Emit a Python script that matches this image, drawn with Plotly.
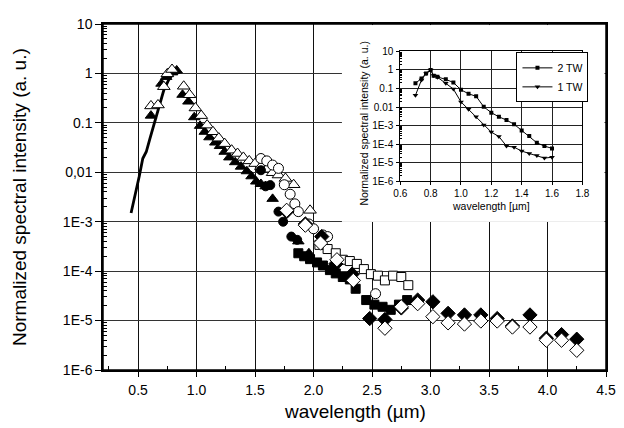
import plotly.graph_objects as go

# ---------------- main chart data ----------------
line_x = [0.44, 0.45, 0.47, 0.49, 0.51, 0.54, 0.57, 0.60, 0.64, 0.68, 0.72, 0.76, 0.79, 0.81, 0.83, 0.85]
line_y = [1.5e-3, 1.9e-3, 3.0e-3, 5.0e-3, 8.3e-3, 1.9e-2, 2.6e-2, 4.7e-2, 0.10, 0.21, 0.46, 0.73, 0.95, 1.07, 1.2, 0.98]

tri_f_x = [0.61, 0.70, 0.74, 0.79, 0.83, 0.88, 0.93, 0.98, 1.03, 1.07, 1.11, 1.16, 1.20, 1.24, 1.28, 1.33,
           1.38, 1.43, 1.47, 1.51, 1.55, 1.59, 1.65, 1.87, 1.96]
tri_f_y = [0.14, 0.62, 0.85, 1.05, 1.15, 0.37, 0.27, 0.13, 0.087, 0.066, 0.051, 0.040, 0.034, 0.026, 0.020, 0.016,
           0.013, 0.0105, 0.0083, 0.0065, 0.0058, 0.0052, 0.0029, 4.0e-4, 2.3e-4]

tri_o_x = [0.61, 0.67, 0.72, 0.75, 0.79, 0.89, 0.94, 0.99, 1.04, 1.09, 1.14, 1.19, 1.24, 1.30, 1.35, 1.40,
           1.45, 1.50, 1.55, 1.60, 1.65, 1.70, 1.76, 1.83, 1.97]
tri_o_y = [0.22, 0.23, 0.54, 0.98, 1.2, 0.55, 0.37, 0.20, 0.14, 0.090, 0.066, 0.049, 0.038, 0.028, 0.024, 0.020,
           0.017, 0.015, 0.013, 0.0115, 0.0098, 0.0088, 0.0075, 0.0056, 0.0017]

circ_f_x = [1.55, 1.59, 1.63, 1.70, 1.74, 1.81, 1.86]
circ_f_y = [0.011, 0.0052, 0.0055, 0.0016, 0.0010, 5.0e-4, 4.3e-4]

circ_o_x = [1.55, 1.60, 1.65, 1.70, 1.75, 1.80, 1.84, 1.87, 1.96, 2.00, 2.08, 2.12, 2.53]
circ_o_y = [0.019, 0.017, 0.014, 0.012, 0.0056, 0.0036, 0.0023, 0.0016, 9.0e-4, 7.2e-4, 5.4e-4, 5.0e-4, 3.5e-5]

dia_f_x = [1.77, 1.93, 2.07, 2.19, 2.33, 2.48, 2.61, 2.75, 2.89, 3.02, 3.15, 3.29, 3.43, 3.57, 3.70, 3.85,
           3.99, 4.12, 4.25]
dia_f_y = [1.6e-3, 9.0e-4, 5.0e-4, 1.4e-4, 8.7e-5, 1.1e-5, 1.05e-5, 1.8e-5, 2.6e-5, 2.4e-5, 1.4e-5, 1.3e-5,
           1.3e-5, 1.1e-5, 7.8e-6, 1.3e-5, 4.4e-6, 5.2e-6, 4.2e-6]

dia_o_x = [1.77, 1.93, 2.06, 2.20, 2.34, 2.61, 2.75, 2.89, 3.02, 3.15, 3.29, 3.43, 3.57, 3.70, 3.85, 3.99,
           4.12, 4.25]
dia_o_y = [1.7e-3, 8.5e-4, 3.7e-4, 1.7e-4, 6.5e-5, 7.0e-6, 1.9e-5, 2.2e-5, 1.2e-5, 9.0e-6, 8.5e-6, 9.8e-6,
           9.8e-6, 7.4e-6, 7.4e-6, 4.0e-6, 4.0e-6, 2.5e-6]

sq_f_x = [1.87, 1.92, 1.97, 2.03, 2.08, 2.14, 2.19, 2.25, 2.31, 2.36, 2.45, 2.52, 2.59, 2.66, 2.73, 2.80]
sq_f_y = [2.3e-4, 2.0e-4, 1.75e-4, 1.5e-4, 1.3e-4, 1.05e-4, 9.0e-5, 7.6e-5, 6.8e-5, 4.4e-5, 2.6e-5, 2.1e-5,
          1.9e-5, 1.65e-5, 2.1e-5, 2.6e-5]

sq_o_x = [2.05, 2.12, 2.19, 2.25, 2.31, 2.37, 2.43, 2.49, 2.55, 2.61, 2.68, 2.75, 2.81]
sq_o_y = [3.4e-4, 2.8e-4, 2.3e-4, 1.7e-4, 1.6e-4, 1.4e-4, 1.1e-4, 8.7e-5, 8.1e-5, 6.5e-5, 8.1e-5, 7.6e-5, 5.2e-5]

main_xtick_vals = [0.5, 1.0, 1.5, 2.0, 2.5, 3.0, 3.5, 4.0, 4.5]
main_xtick_text = ["0.5", "1.0", "1.5", "2.0", "2.5", "3.0", "3.5", "4.0", "4.5"]
main_ytick_vals = [1e-6, 1e-5, 1e-4, 1e-3, 1e-2, 1e-1, 1, 10]
main_ytick_text = ["1E-6", "1E-5", "1E-4", "1E-3", "0,01", "0.1", "1", "10"]

# ---------------- inset data ----------------
tw2_x = [0.70, 0.74, 0.77, 0.80, 0.82, 0.845, 0.90, 0.95, 1.00, 1.05, 1.10, 1.15, 1.20, 1.25, 1.30, 1.35,
         1.40, 1.45, 1.50, 1.55, 1.60]
tw2_y = [0.19, 0.35, 0.65, 1.0, 0.48, 0.43, 0.31, 0.21, 0.085, 0.052, 0.038, 0.0104, 5.0e-3, 3.0e-3, 2.0e-3,
         1.2e-3, 5.5e-4, 2.8e-4, 1.2e-4, 8.0e-5, 6.0e-5]
tw1_x = [0.70, 0.74, 0.77, 0.80, 0.82, 0.845, 0.90, 0.95, 1.00, 1.05, 1.10, 1.15, 1.20, 1.25, 1.30, 1.35,
         1.40, 1.45, 1.50, 1.55, 1.60]
tw1_y = [0.043, 0.29, 0.65, 1.0, 0.5, 0.4, 0.19, 0.093, 0.019, 7.6e-3, 3.0e-3, 1.1e-3, 4.5e-4, 2.6e-4, 8.0e-5,
         7.0e-5, 4.3e-5, 3.2e-5, 2.5e-5, 1.8e-5, 2.0e-5]
series_names = ["2 TW", "1 TW"]

inset_xtick_vals = [0.6, 0.8, 1.0, 1.2, 1.4, 1.6, 1.8]
inset_xtick_text = ["0.6", "0.8", "1.0", "1.2", "1.4", "1.6", "1.8"]
inset_ytick_vals = [1e-6, 1e-5, 1e-4, 1e-3, 1e-2, 1e-1, 1, 10]
inset_ytick_text = ["1E-6", "1E-5", "1E-4", "1E-3", "0.01", "0.1", "1", "10"]

FONT = "Liberation Sans, Arial, Helvetica, sans-serif"
minor_log = [m * 10 ** k for k in range(-6, 1) for m in range(2, 10)]

fig = go.Figure()


def add_markers(x, y, symbol, filled, size):
    fig.add_trace(go.Scatter(
        x=x, y=y, mode="markers", showlegend=False, hoverinfo="skip",
        marker=dict(symbol=symbol, size=size, color="black" if filled else "white",
                    line=dict(color="black", width=1)),
    ))


fig.add_trace(go.Scatter(x=line_x, y=line_y, mode="lines", showlegend=False, hoverinfo="skip",
                         line=dict(color="black", width=2.8)))
add_markers(tri_f_x, tri_f_y, "triangle-up", True, 10)
add_markers(tri_o_x, tri_o_y, "triangle-up", False, 11)
add_markers(circ_f_x, circ_f_y, "circle", True, 9)
add_markers(circ_o_x, circ_o_y, "circle", False, 10)
add_markers(sq_f_x, sq_f_y, "square", True, 9)
add_markers(sq_o_x, sq_o_y, "square", False, 9)
add_markers(dia_f_x, dia_f_y, "diamond", True, 11)
add_markers(dia_o_x, dia_o_y, "diamond", False, 11)

# dummy subplot providing the white panel behind the inset
fig.add_trace(go.Scatter(x=[], y=[], xaxis="x2", yaxis="y2", showlegend=False, hoverinfo="skip"))

# inset traces
fig.add_trace(go.Scatter(x=tw2_x, y=tw2_y, xaxis="x3", yaxis="y3", mode="lines+markers", name=series_names[0],
                         line=dict(color="black", width=1), marker=dict(symbol="square", size=4, color="black")))
fig.add_trace(go.Scatter(x=tw1_x, y=tw1_y, xaxis="x3", yaxis="y3", mode="lines+markers", name=series_names[1],
                         line=dict(color="black", width=1),
                         marker=dict(symbol="triangle-down", size=5, color="black")))

# page body has an 8px margin: figure is shrunk/offset so the plot lands where the reference has it
fig.update_layout(
    width=616, height=420, autosize=False,
    margin=dict(l=95, r=12, t=8, b=58),
    paper_bgcolor="white", plot_bgcolor="white",
    font=dict(family=FONT, color="black"),
    xaxis=dict(
        domain=[0, 1], range=[0.2, 4.5], tickmode="array", tickvals=main_xtick_vals, ticktext=main_xtick_text,
        showgrid=True, gridcolor="#111", gridwidth=1.3, zeroline=False,
        showline=True, linecolor="black", linewidth=1.5, mirror=True,
        ticks="outside", ticklen=5, tickcolor="black", ticklabelstandoff=1,
        tickfont=dict(size=14, family=FONT),
        minor=dict(tickmode="array", tickvals=[0.25, 0.75, 1.25, 1.75, 2.25, 2.75, 3.25, 3.75, 4.25],
                   ticks="inside", ticklen=4, tickcolor="black", showgrid=False),
    ),
    yaxis=dict(
        domain=[0, 1], type="log", range=[-6, 1], tickmode="array", tickvals=main_ytick_vals,
        ticktext=main_ytick_text,
        showgrid=True, gridcolor="#333", gridwidth=1.2, zeroline=False,
        showline=True, linecolor="black", linewidth=1.5, mirror=True,
        ticks="outside", ticklen=6, tickcolor="black",
        tickfont=dict(size=14, family=FONT),
        minor=dict(tickmode="array", tickvals=minor_log, ticks="inside", ticklen=4, tickcolor="black",
                   showgrid=False),
    ),
    xaxis2=dict(domain=[0.475, 0.997], anchor="y2", range=[0, 1], showgrid=False, zeroline=False,
                showline=False, showticklabels=False, ticks=""),
    yaxis2=dict(domain=[0.428, 0.997], anchor="x2", range=[0, 1], showgrid=False, zeroline=False,
                showline=False, showticklabels=False, ticks=""),
    xaxis3=dict(
        domain=[0.591, 0.953], anchor="y3", range=[0.6, 1.8], tickmode="array", tickvals=inset_xtick_vals,
        ticktext=inset_xtick_text, showgrid=True, gridcolor="#222", gridwidth=1, zeroline=False,
        showline=True, linecolor="black", linewidth=1, mirror=True,
        ticks="outside", ticklen=3, tickcolor="black", ticklabelstandoff=0,
        tickfont=dict(size=10, family=FONT),
    ),
    yaxis3=dict(
        domain=[0.545, 0.921], anchor="x3", type="log", range=[-6, 1], tickmode="array",
        tickvals=inset_ytick_vals, ticktext=inset_ytick_text,
        showgrid=True, gridcolor="#222", gridwidth=1, zeroline=False,
        showline=True, linecolor="black", linewidth=1, mirror=True,
        ticks="outside", ticklen=3, tickcolor="black", ticklabelstandoff=1,
        tickfont=dict(size=10, family=FONT),
        minor=dict(tickmode="array", tickvals=minor_log, ticks="inside", ticklen=2, tickcolor="black",
                   showgrid=False),
    ),
    showlegend=True,
    legend=dict(x=0.822, y=0.918, xanchor="left", yanchor="top", bgcolor="white", bordercolor="black",
                borderwidth=1, font=dict(size=10.5, family=FONT), itemwidth=30, tracegroupgap=0),
    shapes=[dict(type="rect", xref="paper", yref="paper", x0=0, x1=1, y0=0, y1=1,
                 line=dict(color="black", width=1.5), fillcolor="rgba(0,0,0,0)", layer="above")],
    annotations=[
        dict(text="Normalized spectral intensity (a. u.)", xref="paper", yref="paper", x=-0.167, y=0.5,
             textangle=-90, showarrow=False, xanchor="center", yanchor="middle",
             font=dict(size=19, family=FONT)),
        dict(text="wavelength (µm)", xref="paper", yref="paper", x=0.5, y=-0.119, showarrow=False,
             xanchor="center", yanchor="middle", font=dict(size=19, family=FONT)),
        dict(text="Normalized spectral intensity (a. u.)", xref="paper", yref="paper", x=0.5187, y=0.7147,
             textangle=-90, showarrow=False, xanchor="center", yanchor="middle",
             font=dict(size=10.5, family=FONT)),
        dict(text="wavelength [µm]", xref="paper", yref="paper", x=0.772, y=0.4735, showarrow=False,
             xanchor="center", yanchor="middle", font=dict(size=10.5, family=FONT)),
    ],
)

fig.write_html("out.html")
